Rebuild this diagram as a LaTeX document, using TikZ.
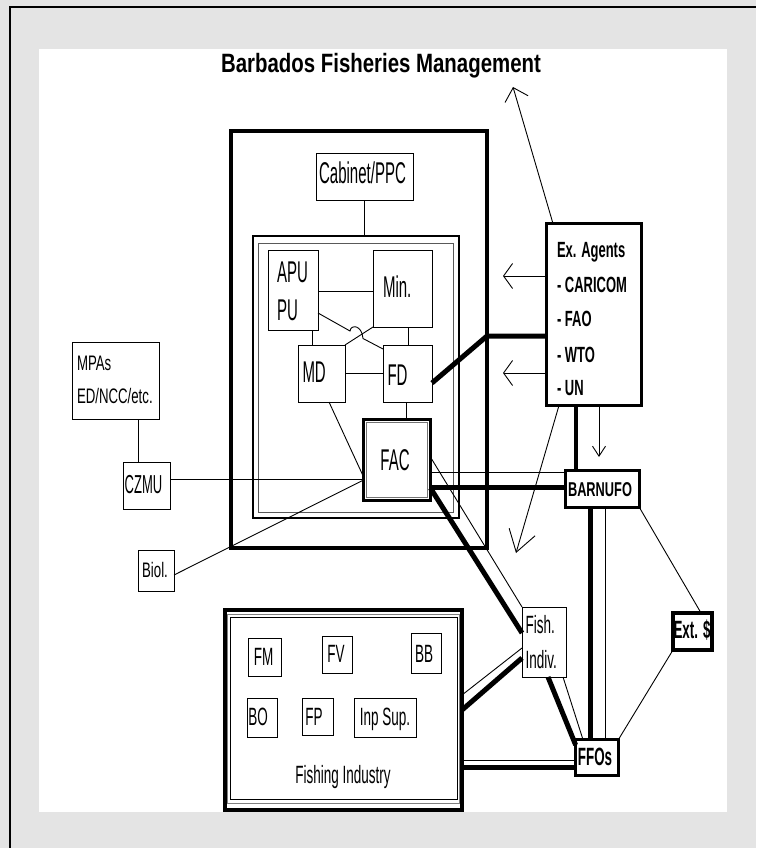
\documentclass[tikz,border=0pt]{standalone}
\usepackage{fontspec}
\usetikzlibrary{arrows.meta}
\newfontfamily\fnA{Liberation Sans}[FakeStretch=0.50]
\newfontfamily\fnB{Liberation Sans}[FakeStretch=0.54]
\newfontfamily\fnC{Liberation Sans}[FakeStretch=0.63]
\newfontfamily\fnBa{Liberation Sans}[FakeStretch=0.59]
\newfontfamily\fnBb{Liberation Sans}[FakeStretch=0.64]
\newfontfamily\fnBc{Liberation Sans}[FakeStretch=0.535]
\newfontfamily\fnT{Liberation Sans}[FakeStretch=0.77]
\definecolor{bggray}{RGB}{228,228,228}
\tikzset{
  bx/.style={draw, line width=0.9pt, inner sep=0pt, outer sep=0pt},
  tbx/.style={draw, line width=3.3pt, inner sep=0pt, outer sep=0pt},
  tl/.style={inner sep=0pt, outer sep=0pt, anchor=base west},
  tc/.style={inner sep=0pt, outer sep=0pt, anchor=base},
  gvf/.style={font=\fnA\fontsize{30}{30}\selectfont},
  smf/.style={font=\fnC\fontsize{21}{21}\selectfont},
  fif/.style={font=\fnB\fontsize{25}{25}\selectfont},
  exf/.style={font=\fnBa\bfseries\fontsize{22}{22}\selectfont},
  bcf/.style={font=\fnBc\bfseries\fontsize{25}{25}\selectfont},
  ln/.style={line width=0.9pt},
  lnk/.style={line width=5pt},
  lnm/.style={line width=4.5pt},
}
\begin{document}
\begin{tikzpicture}[x=1pt,y=-1pt]
\fill[bggray] (0,0) rectangle (756,848);
\useasboundingbox (0,0) rectangle (756,848);
\fill[white] (39,49) rectangle (727,812);
\draw[line width=2pt] (9.5,848) -- (9.5,7) -- (756,7);

% title
\node[tc, font=\fnT\bfseries\fontsize{26.5}{26.5}\selectfont] (title) at (381,73) {Barbados Fisheries Management};

% government frames
\node[draw, line width=3.5pt, inner sep=0pt, outer sep=0pt, minimum width=256pt, minimum height=417pt] (gov) at (359,339.5) {};
\node[draw, line width=1.8pt, inner sep=0pt, outer sep=0pt, minimum width=206pt, minimum height=282pt] (dbl) at (356,377) {};
\draw[line width=1pt, black!65] (258,243) rectangle (453,512);

% government nodes
\node[bx, minimum width=97pt, minimum height=47pt] (cab) at (364.5,176.5) {};
\node[tc, gvf] at (362.5,183) {Cabinet/PPC};
\node[bx, minimum width=50pt, minimum height=80pt] (apu) at (293,290) {};
\node[tl, gvf] at (277,282) {APU};
\node[tl, gvf] at (277,320) {PU};
\node[bx, minimum width=59pt, minimum height=77pt] (min) at (402.5,288.5) {};
\node[tl, gvf] at (383,297) {Min.};
\node[bx, minimum width=47pt, minimum height=57pt] (md) at (321.5,373.5) {};
\node[tl, gvf] at (302.5,382) {MD};
\node[bx, minimum width=49pt, minimum height=57pt] (fd) at (407.5,373.5) {};
\node[tl, gvf] at (387.5,385) {FD};
\node[draw, line width=3.2pt, inner sep=0pt, outer sep=0pt, minimum width=66.8pt, minimum height=80.8pt] (fac) at (397,460) {};
\draw[line width=1pt, black!55] (366.5,422.5) rectangle (427.5,497.5);
\node[tc, gvf] at (395,470) {FAC};

% left nodes
\node[bx, minimum width=87pt, minimum height=77pt] (mpa) at (115.5,380.5) {};
\node[tl, smf] at (77,370) {MPAs};
\node[tl, smf] at (77,403) {ED/NCC/etc.};
\node[bx, minimum width=47pt, minimum height=47pt] (czmu) at (146.5,485.5) {};
\node[tc, font=\fnA\fontsize{26}{26}\selectfont] at (143.5,493) {CZMU};
\node[bx, minimum width=36pt, minimum height=41pt] (biol) at (156,570.5) {};
\node[tc, smf] at (155,577) {Biol.};

% external agents
\node[tbx, minimum width=94.8pt, minimum height=181.8pt] (exa) at (594,314.5) {};
\node[tl, exf] at (557,257) {Ex. Agents};
\node[tl, exf] at (557,292) {- CARICOM};
\node[tl, exf] at (557,326) {- FAO};
\node[tl, exf] at (557,362) {- WTO};
\node[tl, exf] at (557,395) {- UN};

% right nodes
\node[tbx, minimum width=73.7pt, minimum height=36.7pt] (barn) at (602.5,489) {};
\node[tc, font=\fnBb\bfseries\fontsize{20}{20}\selectfont] at (600,496) {BARNUFO};
\node[tbx, line width=3.8pt, minimum width=39.2pt, minimum height=37.2pt] (ext) at (692.5,631.5) {};
\node[tc, bcf] at (692,638) {Ext. \$};
\node[tbx, minimum width=42.7pt, minimum height=35.7pt] (ffo) at (597,757.5) {};
\node[tc, bcf] at (595,765) {FFOs};
\node[bx, minimum width=44pt, minimum height=70pt] (fish) at (544,642) {};
\node[tl, fif] at (525.5,633) {Fish.};
\node[tl, fif] at (525.5,668) {Indiv.};

% fishing industry
\node[draw, line width=4pt, inner sep=0pt, outer sep=0pt, minimum width=237pt, minimum height=200pt] (fi) at (343.5,710) {};
\draw[line width=0.9pt, black!50] (227.8,614) rectangle (459.8,803.5);
\draw[line width=1pt] (230.5,617.5) rectangle (457.5,799);
\node[bx, minimum width=33pt, minimum height=38pt] (fm) at (264.5,657) {};
\node[tc, fif] at (263.5,665) {FM};
\node[bx, minimum width=30pt, minimum height=37pt] (fv) at (337,654.5) {};
\node[tc, fif] at (336,662) {FV};
\node[bx, minimum width=30pt, minimum height=40pt] (bb) at (426,653) {};
\node[tc, fif] at (424,662) {BB};
\node[bx, minimum width=30pt, minimum height=39pt] (bo) at (262,717.5) {};
\node[tc, fif] at (258,725) {BO};
\node[bx, minimum width=31pt, minimum height=37pt] (fp) at (317.5,716.5) {};
\node[tc, fif] at (314,725) {FP};
\node[bx, minimum width=62pt, minimum height=39pt] (inp) at (385,717.5) {};
\node[tc, fif] at (385,725) {Inp Sup.};
\node[tc, fif] at (343,783) {Fishing Industry};

% connectors inside government
\draw[ln] (cab.south) -- (cab.south |- dbl.north);
\draw[ln] (apu.east |- 0,291) -- (min.west |- 0,291);
\draw[ln] (apu.south -| 312,0) -- (md.north -| 312,0);
\draw[ln] (min.south -| 408,0) -- (fd.north -| 408,0);
\draw[ln] (md.east) -- (fd.west);
\draw[ln] (fd.south -| 406,0) -- (fac.north -| 406,0);
\draw[ln] (md.south -| 329,0) -- (fac.west |- 0,477);
\draw[ln] (md.north east) -- (min.south west);
\draw[ln] (apu.east |- 0,313) -- (350,331) .. controls (351,324) and (362,325) .. (363,338.5) -- (fd.west |- 0,349);

% left connectors
\draw[ln] (czmu.east |- 0,479) -- (fac.west |- 0,479);
\draw[ln] (mpa.south -| 138,0) -- (czmu.north -| 138,0);
\draw[ln] (biol.east |- 0,575) -- (fac.west |- 0,480);

% external agents connectors
\draw[lnk] (exa.west |- 0,336) -- (gov.east |- 0,336) -- (fd.east |- 0,383);
\coordinate (tipT) at (513,87);
\draw[ln, -{Straight Barb[length=12pt,width=24pt]}] (exa.north -| 553,0) -- (tipT);
\coordinate (tipL1) at (503,276);
\coordinate (tipL2) at (503,373);
\draw[ln, -{Straight Barb[length=9pt,width=25pt]}] (exa.west |- tipL1) -- (tipL1);
\draw[ln, -{Straight Barb[length=9pt,width=25pt]}] (exa.west |- tipL2) -- (tipL2);
\draw[lnm] (exa.south -| 576,0) -- (barn.north -| 576,0);
\coordinate (tipD) at (599,457);
\draw[ln, -{Straight Barb[length=10pt,width=13pt]}] (exa.south -| tipD) -- (tipD);
\coordinate (tipDL) at (516,553);
\draw[ln, -{Straight Barb[length=21pt,width=27pt]}] (exa.south -| 559,0) -- (tipDL);

% FAC connectors
\draw[ln] (fac.east |- 0,472.5) -- (barn.west |- 0,472.5);
\draw[lnk] (fac.east |- 0,487) -- (barn.west |- 0,487);
\draw[ln] (fac.east |- 0,457) -- (fish.north west);
\draw[lnk] (fac.east |- 0,488) -- (fish.west |- 0,633);

% fishers connectors
\draw[lnk] (fish.south -| 548,0) -- (ffo.west |- 0,745);
\draw[ln] (fish.south -| 563,0) -- (ffo.north -| 583,0);
\draw[ln] (fi.east |- 0,695) -- (fish.west |- 0,648);
\draw[lnk] (fi.east |- 0,710) -- (fish.west |- 0,658);
\draw[ln] (fi.east |- 0,760.5) -- (ffo.west |- 0,760.5);
\draw[lnk] (fi.east |- 0,767.5) -- (ffo.west |- 0,767.5);
\draw[lnk] (barn.south -| 590.5,0) -- (ffo.north -| 590.5,0);
\draw[ln] (barn.south -| 605,0) -- (ffo.north -| 605,0);
\draw[ln] (barn.south east) -- (ext.north -| 701,0);
\draw[ln] (ext.south west) -- (ffo.north east);
\end{tikzpicture}
\end{document}
